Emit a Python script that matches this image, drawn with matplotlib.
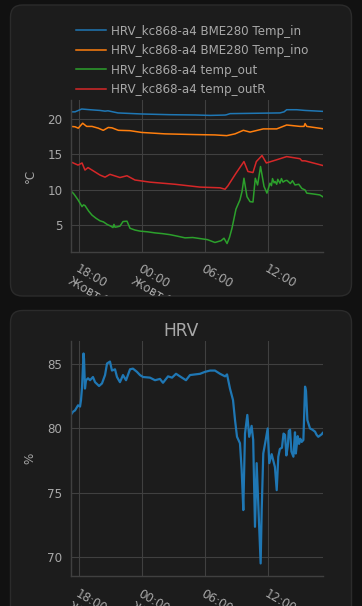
"""
Dashboard HRV: temperature e umidita' su due card scure.
"""
import matplotlib
matplotlib.use("Agg")
import matplotlib.pyplot as plt
from matplotlib.patches import FancyBboxPatch
from matplotlib.transforms import IdentityTransform, Bbox
from datetime import datetime, timedelta

# Ore dall'inizio del 23 ottobre
t_in_h = [17.18, 17.59, 18.23, 19.02, 19.97, 20.45, 20.73, 21.68, 23.94, 26.64,
          29.02, 30.45, 31.88, 32.04, 32.35, 34.73, 37.11, 37.5, 37.75, 38.71,
          39.5, 41.18]
temp_in = [21.0, 21.0, 21.4, 21.3, 21.2, 21.1, 21.15, 20.85, 20.7, 20.6,
           20.56, 20.5, 20.55, 20.6, 20.75, 20.8, 20.85, 21.0, 21.3, 21.3,
           21.2, 21.07]

t_ino_h = [17.18, 17.59, 17.9, 18.32, 18.7, 19.21, 19.81, 20.28, 20.76, 21.11,
           21.72, 22.83, 23.94, 26.16, 29.02, 30.92, 32.04, 32.83, 33.62, 34.26,
           35.52, 36.8, 37.75, 39.02, 39.4, 39.5, 39.66, 41.18]
temp_ino = [18.95, 18.9, 18.7, 19.4, 18.95, 18.95, 18.7, 18.4, 18.8, 18.75,
            18.4, 18.35, 18.1, 17.9, 17.8, 17.75, 17.65, 17.9, 18.4, 18.15,
            18.6, 18.6, 19.15, 18.95, 18.95, 19.35, 18.95, 18.63]

t_out_h = [17.18, 17.5, 17.88, 18.26, 18.4, 18.54, 18.9, 19.21, 19.6, 19.97,
           20.3, 20.64, 21.0, 21.21, 21.3, 21.4, 21.6, 21.87, 22.16, 22.54,
           22.83, 23.3, 23.78, 24.5, 25.21, 25.9, 26.64, 27.3, 28.07, 28.8,
           29.5, 30.2, 30.92, 31.5, 31.78, 32.07, 32.3, 32.54, 32.92, 33.3,
           33.5, 33.68, 33.97, 34.26, 34.54, 34.76, 34.98, 35.26, 35.59, 35.87,
           36.16, 36.3, 36.4, 36.55, 36.64, 36.8, 36.9, 37.11, 37.25, 37.4,
           37.6, 37.78, 38.1, 38.3, 38.54, 38.9, 39.2, 39.5, 39.66, 40.2,
           40.9, 41.18]
temp_out = [9.9, 9.4, 8.6, 7.65, 7.9, 7.8, 7.0, 6.45, 6.0, 5.65,
            5.5, 5.15, 4.9, 4.7, 5.15, 4.75, 4.8, 4.9, 5.55, 5.6,
            4.6, 4.35, 4.2, 4.1, 3.95, 3.85, 3.7, 3.5, 3.25, 3.3,
            3.15, 3.0, 2.6, 2.85, 3.2, 2.45, 3.3, 4.6, 7.3, 8.6,
            9.8, 11.65, 9.05, 8.35, 8.3, 11.65, 10.7, 13.3, 10.5, 9.55,
            10.95, 10.6, 11.6, 11.0, 11.2, 10.8, 11.5, 10.95, 11.6, 11.1,
            11.3, 11.35, 10.9, 11.3, 10.7, 10.8, 10.2, 10.0, 9.55, 9.45,
            9.3, 9.05]

t_outr_h = [17.18, 17.88, 18.26, 18.54, 18.83, 19.97, 20.45, 20.92, 21.87, 22.54,
            23.3, 24.73, 27.11, 29.5, 31.4, 31.88, 32.16, 32.92, 33.68, 34.06,
            34.54, 34.86, 35.4, 35.81, 36.8, 37.75, 39.02, 39.2, 39.5, 41.18]
temp_outr = [13.96, 13.5, 13.8, 12.8, 13.15, 12.1, 11.8, 12.2, 11.75, 12.0,
             11.4, 11.1, 10.8, 10.4, 10.3, 10.1, 10.6, 12.35, 14.0, 12.6,
             12.45, 14.0, 14.85, 13.8, 14.25, 14.7, 14.4, 14.1, 14.1, 13.45]

t_hrv_h = [17.18, 17.4, 17.59, 17.88, 18.07, 18.16, 18.26, 18.4, 18.45, 18.54,
           18.64, 18.83, 19.02, 19.3, 19.5, 19.88, 20.16, 20.45, 20.64, 20.92,
           21.11, 21.4, 21.59, 21.87, 22.16, 22.45, 22.83, 23.11, 23.49, 23.78,
           24.07, 24.73, 25.21, 25.68, 25.97, 26.45, 26.83, 27.21, 27.68, 28.16,
           28.54, 29.02, 29.5, 29.97, 30.45, 30.92, 31.4, 31.88, 32.07, 32.35,
           32.64, 32.83, 33.02, 33.3, 33.46, 33.62, 33.68, 33.78, 34.0, 34.18,
           34.41, 34.56, 34.73, 34.89, 35.04, 35.27, 35.37, 35.52, 35.73, 35.94,
           36.09, 36.32, 36.63, 36.8, 36.95, 37.1, 37.3, 37.45, 37.59, 37.72,
           37.85, 37.95, 38.07, 38.2, 38.39, 38.54, 38.62, 38.71, 38.8, 38.93,
           39.05, 39.18, 39.34, 39.5, 39.59, 39.72, 39.97, 40.2, 40.45, 40.6,
           40.76, 41.09, 41.18]
hrv = [81.04, 81.3, 81.4, 81.8, 81.7, 82.2, 83.2, 85.83, 85.4, 83.1,
       83.75, 83.9, 83.75, 84.0, 83.6, 83.3, 83.5, 84.15, 85.05, 85.2,
       84.5, 84.6, 84.0, 83.6, 84.15, 83.75, 84.6, 84.65, 84.4, 84.15,
       84.0, 83.95, 83.75, 83.85, 83.55, 84.05, 83.95, 84.25, 84.0, 83.75,
       84.15, 84.2, 84.25, 84.4, 84.5, 84.5, 84.25, 84.05, 84.2, 83.1,
       82.2, 80.65, 79.35, 78.85, 76.8, 73.65, 76.0, 79.6, 81.05, 79.35,
       80.2, 79.1, 72.35, 77.3, 74.2, 69.5, 73.65, 78.05, 79.0, 80.0,
       77.3, 78.0, 77.0, 75.2, 77.8, 78.4, 78.5, 79.6, 79.5, 77.9,
       78.6, 79.8, 79.9, 78.2, 77.8, 79.7, 78.05, 78.7, 79.4, 78.8,
       79.2, 78.95, 79.1, 83.25, 82.9, 80.65, 80.0, 79.9, 79.75, 79.5,
       79.35, 79.55, 79.65]

labels_temp = ["HRV_kc868-a4 BME280 Temp_in", "HRV_kc868-a4 BME280 Temp_ino",
               "HRV_kc868-a4 temp_out", "HRV_kc868-a4 temp_outR"]
colors = ["#1f77b4", "#ff7f0e", "#2ca02c", "#d62728"]

tick_hours = [18, 24, 30, 36]
tick_labels = ["18:00\nЖовт 23, 2024", "00:00\nЖовт 24, 2024", "06:00", "12:00"]

base = datetime(2024, 10, 23)
def to_dt(hours):
    return [base + timedelta(hours=h) for h in hours]

W, H = 362, 606
bg_page = "#111111"
bg_card = "#1c1c1c"
grid_col = "#404040"
text_col = "#a8a8a8"

fig = plt.figure(figsize=(W / 100, H / 100), dpi=100, facecolor=bg_page)

def card(x0, y0, x1, y1):
    p = FancyBboxPatch((x0, H - y1), x1 - x0, y1 - y0,
                       boxstyle="round,pad=0,rounding_size=12",
                       transform=IdentityTransform(), facecolor=bg_card,
                       edgecolor="#2b2b2b", linewidth=1, zorder=-1)
    fig.add_artist(p)
    return p

card1 = card(10.5, 5, 351.5, 296)
card2 = card(10.5, 310.5, 351.5, 640)
# la card taglia il testo che esce dal bordo (come nel dashboard)
card1_clip = Bbox([[10.5, H - 296], [351.5, H - 5]])

def axes_px(x0, y0, x1, y1):
    return fig.add_axes([x0 / W, 1 - y1 / H, (x1 - x0) / W, (y1 - y0) / H])

ax1 = axes_px(70.7, 100.5, 322.7, 251.7)
ax2 = axes_px(70.7, 341, 322.7, 576.3)

xmin = base + timedelta(hours=17.18)
xmax = base + timedelta(hours=41.18)

fs = 8.6
for ax in (ax1, ax2):
    ax.set_facecolor("none")
    for s in ("top", "right"):
        ax.spines[s].set_visible(False)
    for s in ("left", "bottom"):
        ax.spines[s].set_color(grid_col)
        ax.spines[s].set_linewidth(1)
    ax.grid(True, color=grid_col, linewidth=0.8)
    ax.set_axisbelow(True)
    ax.set_xlim(xmin, xmax)
    ax.set_xticks(to_dt(tick_hours))
    ax.set_xticklabels(tick_labels)
    ax.tick_params(axis="x", length=0, pad=8, colors=text_col, labelsize=fs)
    ax.tick_params(axis="y", length=0, pad=6, colors=text_col, labelsize=fs)
    for lbl in ax.get_xticklabels():
        lbl.set_rotation(-30)
        lbl.set_rotation_mode("anchor")
        lbl.set_ha("left")
        lbl.set_va("top")
        lbl.set_linespacing(1.1)

series = [(t_in_h, temp_in), (t_ino_h, temp_ino), (t_out_h, temp_out), (t_outr_h, temp_outr)]
for (th, vals), lab, c in zip(series, labels_temp, colors):
    ax1.plot(to_dt(th), vals, color=c, linewidth=1.1, label=lab)
ax1.set_ylim(1.3, 22.6)
ax1.set_yticks([5, 10, 15, 20])
ax1.set_ylabel("°C", color=text_col, fontsize=fs, va="center")
ax1.yaxis.set_label_coords(-0.161, 0.5)

leg = ax1.legend(loc="upper left", bbox_to_anchor=(76 / W, 1 - 24.5 / H),
                 bbox_transform=fig.transFigure, frameon=False, fontsize=fs,
                 handlelength=2.5, handletextpad=0.45, labelspacing=0.55,
                 borderpad=0, borderaxespad=0)
for t in leg.get_texts():
    t.set_color(text_col)

ax2.plot(to_dt(t_hrv_h), hrv, color=colors[0], linewidth=1.6)
ax2.set_ylim(68.5, 86.8)
ax2.set_yticks([70, 75, 80, 85])
ax2.set_ylabel("%", color=text_col, fontsize=fs, va="center")
ax2.yaxis.set_label_coords(-0.161, 0.5)
fig.text(181 / W, 1 - 331 / H, "HRV", ha="center", va="center",
         color=text_col, fontsize=12.3)

fig.canvas.draw()
for lbl in ax1.get_xticklabels():
    lbl.set_clip_on(True)
    lbl.set_clip_box(card1_clip)

fig.savefig("out.png", dpi=100, facecolor=bg_page)
